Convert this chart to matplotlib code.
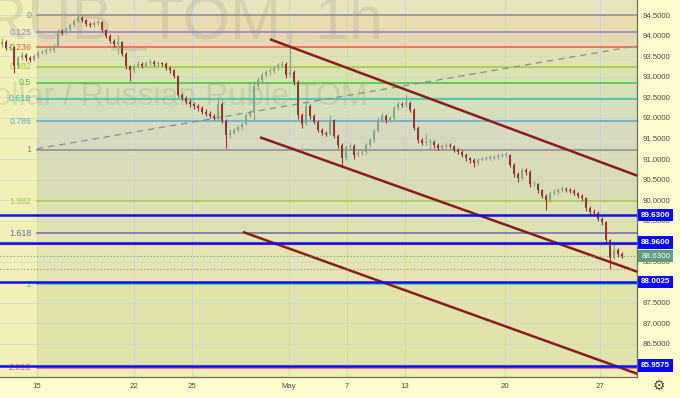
import matplotlib.pyplot as plt
import numpy as np

# hourly USDRUB_TOM candles (merged ~2 bars each)
open0 = 93.80
closes = [93.86, 93.71, 93.73, 93.27, 93.47, 93.54, 93.47, 93.42, 93.51, 93.59,
          93.61, 93.66, 93.66, 93.76, 94.12, 94.08, 94.17, 94.27, 94.37, 94.44,
          94.39, 94.29, 94.27, 94.32, 94.34, 94.15, 94.00, 93.88, 93.81, 93.86,
          93.56, 93.27, 93.17, 93.27, 93.32, 93.27, 93.34, 93.37, 93.32, 93.34,
          93.32, 93.22, 93.17, 93.03, 92.56, 92.49, 92.39, 92.34, 92.29, 92.25,
          92.15, 92.10, 92.05, 92.00, 92.34, 91.93, 91.59, 91.64, 91.71, 91.78,
          91.86, 92.07, 92.15, 92.78, 92.93, 93.05, 93.12, 93.15, 93.22, 93.29,
          93.32, 93.05, 93.12, 92.88, 92.07, 91.86, 92.29, 92.05, 91.90, 91.71,
          91.64, 91.61, 91.95, 91.56, 91.34, 91.03, 91.29, 91.32, 91.10, 91.15,
          91.17, 91.34, 91.47, 91.69, 91.95, 92.05, 91.95, 92.00, 92.25, 92.34,
          92.32, 92.37, 92.20, 91.76, 91.47, 91.39, 91.42, 91.42, 91.34, 91.27,
          91.32, 91.34, 91.32, 91.22, 91.17, 91.10, 91.03, 90.98, 90.90, 90.98,
          91.00, 91.03, 91.03, 91.05, 91.07, 91.10, 91.10, 90.86, 90.64, 90.54,
          90.73, 90.68, 90.39, 90.39, 90.25, 90.10, 90.00, 90.17, 90.20, 90.25,
          90.27, 90.25, 90.22, 90.17, 90.10, 90.05, 89.81, 89.71, 89.69, 89.54,
          89.47, 89.03, 88.59, 88.78, 88.69, 88.63]
highs = [93.95, 93.90, 93.80, 93.76, 93.52, 93.60, 93.58, 93.50, 93.55, 93.64,
         93.67, 93.71, 93.72, 93.80, 94.16, 94.18, 94.22, 94.31, 94.42, 94.50,
         94.49, 94.42, 94.34, 94.37, 94.40, 94.37, 94.18, 94.04, 93.92, 94.02,
         93.88, 93.60, 93.30, 93.32, 93.38, 93.36, 93.40, 93.45, 93.42, 93.39,
         93.37, 93.36, 93.27, 93.20, 93.06, 92.60, 92.54, 92.46, 92.40, 92.35,
         92.30, 92.22, 92.16, 92.10, 92.46, 92.38, 91.97, 91.72, 91.76, 91.84,
         91.90, 92.12, 92.20, 92.90, 93.00, 93.12, 93.18, 93.22, 93.28, 93.35,
         93.40, 93.36, 93.74, 93.16, 92.92, 92.12, 92.40, 92.33, 92.10, 91.94,
         91.76, 91.68, 92.08, 91.98, 91.60, 91.38, 91.35, 91.40, 91.36, 91.22,
         91.24, 91.39, 91.52, 91.74, 92.02, 92.12, 92.10, 92.06, 92.30, 92.42,
         92.40, 92.56, 92.42, 92.24, 91.80, 91.52, 91.60, 91.48, 91.46, 91.40,
         91.37, 91.40, 91.39, 91.35, 91.26, 91.21, 91.14, 91.06, 91.02, 91.03,
         91.05, 91.08, 91.09, 91.10, 91.12, 91.15, 91.17, 91.13, 90.90, 90.68,
         90.78, 90.77, 90.72, 90.46, 90.42, 90.28, 90.14, 90.22, 90.26, 90.30,
         90.34, 90.32, 90.30, 90.26, 90.20, 90.14, 90.08, 89.86, 89.78, 89.72,
         89.58, 89.50, 89.06, 88.96, 88.82, 88.74]
lows = [93.74, 93.66, 93.66, 93.10, 93.22, 93.42, 93.40, 93.36, 93.38, 93.47,
        93.55, 93.57, 93.60, 93.62, 93.72, 94.02, 94.04, 94.13, 94.23, 94.33,
        94.34, 94.24, 94.21, 94.22, 94.28, 94.10, 93.95, 93.82, 93.74, 93.55,
        93.50, 93.20, 92.90, 93.10, 93.22, 93.21, 93.24, 93.30, 93.27, 93.28,
        93.26, 93.17, 93.10, 92.97, 92.50, 92.44, 92.33, 92.28, 92.22, 92.18,
        92.10, 92.05, 91.99, 91.95, 91.96, 91.87, 91.27, 91.52, 91.60, 91.66,
        91.73, 91.82, 92.02, 91.95, 92.70, 92.88, 93.00, 93.06, 93.10, 93.17,
        93.24, 92.98, 93.00, 92.80, 91.98, 91.76, 91.82, 91.98, 91.85, 91.66,
        91.58, 91.55, 91.58, 91.50, 91.28, 90.81, 90.98, 91.22, 91.00, 91.04,
        91.10, 91.12, 91.30, 91.42, 91.65, 91.90, 91.88, 91.90, 91.96, 92.20,
        92.26, 92.28, 92.14, 91.70, 91.40, 91.33, 91.35, 91.24, 91.28, 91.22,
        91.23, 91.28, 91.26, 91.16, 91.12, 91.04, 90.96, 90.91, 90.80, 90.86,
        90.94, 90.97, 90.98, 90.99, 91.01, 91.04, 91.05, 90.80, 90.56, 90.44,
        90.50, 90.62, 90.31, 90.33, 90.18, 90.04, 89.76, 89.96, 90.12, 90.15,
        90.20, 90.20, 90.16, 90.12, 90.04, 89.98, 89.74, 89.64, 89.62, 89.48,
        89.40, 88.95, 88.32, 88.55, 88.60, 88.58]

# fibonacci retracement
fib_levels = [0, 0.125, 0.236, 0.382, 0.5, 0.618, 0.786, 1, 1.382, 1.618, 2, 2.618]
fib_labels = ['0', '0.125', '0.236', '0.382', '0.5', '0.618', '0.786', '1',
              '1.382', '1.618', '2', '2.618']
fib_colors = ['#8c8c8c', '#8f7fc8', '#e0604e', '#9ccc3c', '#3cc83c', '#2ec4a0',
              '#5aaad0', '#8c8c8c', '#a8c84c', '#6a6aae', '#3ec88e', '#e0604a']
band_colors = ['#eadcb0', '#e8d8b2', '#e0e2b4', '#d9e3b2', '#d6e1b5', '#d6dfbb',
               '#d8dabf', '#d9dcb4', '#dde2b0', '#e6e4b2', '#e2e2ac']
fib_0 = 94.50
fib_1 = 91.22
fib_start = 8.75

# drawn lines
blue_levels = [89.63, 88.96, 88.0025, 85.9575]
red_level = 88.93
last_price = 88.63
low_mark = 88.32
channels = [((67.0, 93.92), (160, 90.55)),
            ((64.5, 91.53), (160, 88.21)),
            ((60.25, 89.22), (160, 85.72))]
trend = ((8.75, 91.25), (158.75, 93.76))

date_pos = [8.75, 33.0, 47.5, 71.75, 86.25, 100.75, 125.75, 149.5]
date_labels = ['15', '22', '25', 'May', '7', '13', '20', '27']
price_ticks = [86.5, 87.0, 87.5, 88.0, 88.5, 89.0, 89.5, 90.0, 90.5, 91.0,
               91.5, 92.0, 92.5, 93.0, 93.5, 94.0, 94.5]

plt.rcParams['font.family'] = ['Liberation Sans', 'DejaVu Sans']

fig = plt.figure(figsize=(6.8, 3.98), dpi=100, facecolor='#fffccd')
ax = fig.add_axes([0, 21 / 398, 637 / 680, 377 / 398])
ax.set_facecolor('#f3efb9')
xmin, xmax = -0.5, 158.75
ymin, ymax = 85.683, 94.878
ax.set_xlim(xmin, xmax)
ax.set_ylim(ymin, ymax)

# fib bands
fib_prices = [fib_0 - l * (fib_0 - fib_1) for l in fib_levels]
ax.fill_between([fib_start, xmax], fib_0, ymax, color='#e9e3c0', lw=0, zorder=0)
for k in range(len(fib_prices) - 1):
    ax.fill_between([fib_start, xmax], fib_prices[k + 1], fib_prices[k],
                    color=band_colors[k], lw=0, zorder=0)
ax.fill_between([fib_start, xmax], ymin, fib_prices[-1], color='#efebb5', lw=0, zorder=0)

# grid
for p in price_ticks + [86.0]:
    ax.axhline(p, color='#c9d3d6', lw=0.6, alpha=0.7, zorder=1)
for d in date_pos:
    ax.axvline(d, color='#c6d2da', lw=0.7, alpha=0.8, zorder=1)

# watermark
ax.text(95.25, 94.30, 'USDRUB_TOM, 1h', ha='right', va='center', fontsize=44,
        color='#8a8a80', alpha=0.2, zorder=1)
ax.text(91.5, 92.51, 'US Dollar / Russian Ruble TOM', ha='right', va='center',
        fontsize=23, color='#8a8a80', alpha=0.2, zorder=1)

for p, lab, c in zip(fib_prices, fib_labels, fib_colors):
    ax.plot([fib_start, xmax], [p, p], color=c, lw=1.1, zorder=2)
    ax.text(7.3, p, lab, ha='right', va='center', fontsize=6.3, color=c, zorder=2)

ax.plot([trend[0][0], trend[1][0]], [trend[0][1], trend[1][1]], color='#8c8c8c',
        lw=0.9, ls=(0, (5, 4)), zorder=3)

# candles
opens = np.array([open0] + closes[:-1])
c_arr = np.array(closes)
x = np.arange(len(closes))
cols = np.where(c_arr >= opens, '#86a48a', '#8e3a32')
ax.vlines(x, lows, highs, colors=cols, lw=0.8, zorder=4)
body = np.maximum(np.abs(c_arr - opens), 0.012)
ax.bar(x, body, bottom=np.minimum(opens, c_arr), width=0.6, color=cols, lw=0, zorder=5)

for (x0, y0), (x1, y1) in channels:
    ax.plot([x0, x1], [y0, y1], color='#8b1c1c', lw=1.8, zorder=6, solid_capstyle='butt')

for p in blue_levels:
    ax.axhline(p, color='#1010ee', lw=1.8, zorder=6)
ax.axhline(red_level, color='#e05a3a', lw=0.9, zorder=5)
ax.axhline(last_price, color='#5aa08a', lw=0.8, ls=(0, (1, 2)), zorder=6)
ax.axhline(low_mark, color='#8a8a80', lw=0.8, ls=(0, (1, 2)), zorder=6)

# axes styling
for s in ['top', 'left']:
    ax.spines[s].set_visible(False)
ax.spines['right'].set_color('#6e6e60')
ax.spines['bottom'].set_color('#6e6e60')
ax.spines['right'].set_linewidth(0.9)
ax.spines['bottom'].set_linewidth(0.9)
ax.yaxis.tick_right()
ax.set_yticks(price_ticks)
ax.set_yticklabels([f'{p:.4f}' for p in price_ticks])
ax.tick_params(axis='y', length=0, pad=4, labelsize=5.6, labelcolor='#4a4a44')
ax.set_xticks(date_pos)
ax.set_xticklabels(date_labels)
ax.tick_params(axis='x', length=0, pad=4, labelsize=5.6, labelcolor='#4a4a44')

# price tags
for p in blue_levels:
    ax.annotate(f'{p:.4f}', xy=(1, p), xycoords=('axes fraction', 'data'),
                xytext=(3, 0), textcoords='offset points', ha='left', va='center',
                fontsize=5.8, color='white', fontweight='bold', zorder=10,
                annotation_clip=False,
                bbox=dict(boxstyle='square,pad=0.35', fc='#0a0af0', ec='none'))
ax.annotate(f'{last_price:.4f}', xy=(1, last_price), xycoords=('axes fraction', 'data'),
            xytext=(3, 0), textcoords='offset points', ha='left', va='center',
            fontsize=5.8, color='white', zorder=10, annotation_clip=False,
            bbox=dict(boxstyle='square,pad=0.35', fc='#5e9e80', ec='none'))

fig.text(659 / 680, 1 - 386 / 398, '\u2699', ha='center', va='center', fontsize=10,
         color='#4a4a44', family='DejaVu Sans')

fig.savefig('out.png', dpi=100, facecolor=fig.get_facecolor())
